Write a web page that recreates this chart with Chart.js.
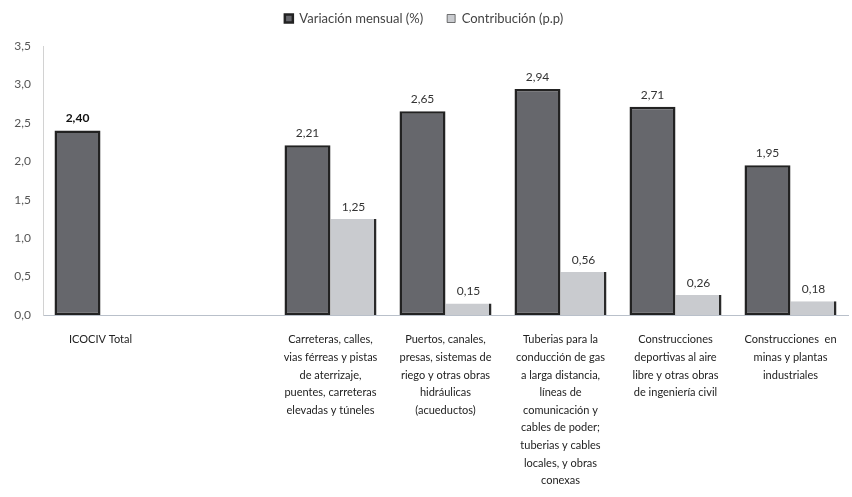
<!DOCTYPE html>
<html>
<head>
<meta charset="utf-8">
<script src="https://cdn.jsdelivr.net/npm/chart.js@4.4.1/dist/chart.umd.min.js"></script>
<style>
  html, body { margin: 0; padding: 0; background: #ffffff; }
  #wrap { width: 852px; height: 497px; position: relative; }
</style>
</head>
<body>
<div id="wrap"><canvas id="c"></canvas></div>
<script>
const categories = [
  ["ICOCIV Total"],
  [""],
  ["Carreteras, calles,", "vias férreas y pistas", "de aterrizaje,", "puentes, carreteras", "elevadas y túneles"],
  ["Puertos, canales,", "presas, sistemas de", "riego y otras obras", "hidráulicas", "(acueductos)"],
  ["Tuberias para la", "conducción de gas", "a larga distancia,", "líneas de", "comunicación y", "cables de poder;", "tuberias y cables", "locales, y obras", "conexas"],
  ["Construcciones", "deportivas al aire", "libre y otras obras", "de ingeniería civil"],
  ["Construcciones  en", "minas y plantas", "industriales"]
];
const seriesNames = ["Variación mensual (%)", "Contribución (p.p)"];
const variacionMensual = [2.40, null, 2.21, 2.65, 2.94, 2.71, 1.95];
const contribucion = [null, null, 1.25, 0.15, 0.56, 0.26, 0.18];
const yTicks = [0, 0.5, 1.0, 1.5, 2.0, 2.5, 3.0, 3.5];

const fmt = (v, d) => v.toFixed(d).replace('.', ',');
const FONT = "Lato, 'Open Sans', sans-serif";

const valueLabels = {
  id: 'valueLabels',
  afterDatasetsDraw(chart) {
    const ctx = chart.ctx;
    ctx.save();
    ctx.textAlign = 'center';
    ctx.textBaseline = 'bottom';
    chart.data.datasets.forEach((ds, di) => {
      const meta = chart.getDatasetMeta(di);
      meta.data.forEach((el, i) => {
        const v = ds.data[i];
        if (v === null || v === undefined) return;
        const bold = (di === 0 && i === 0);
        ctx.font = (bold ? 'bold ' : '') + '12px ' + FONT;
        ctx.fillStyle = bold ? '#111111' : '#333333';
        ctx.fillText(fmt(v, 2), el.x, el.y - 6);
      });
    });
    ctx.restore();
  }
};

// extra gap between legend and plot area
const legendGap = {
  id: 'legendGap',
  beforeInit(chart) {
    const lg = chart.legend;
    if (!lg) return;
    const origFit = lg.fit;
    lg.fit = function () {
      origFit.call(this);
      this.height += 11;
    };
  }
};

new Chart(document.getElementById('c'), {
  type: 'bar',
  data: {
    labels: categories,
    datasets: [
      {
        label: seriesNames[0],
        data: variacionMensual,
        backgroundColor: '#66676c',
        borderColor: '#222222',
        borderWidth: 2.5,
        borderSkipped: false
      },
      {
        label: seriesNames[1],
        data: contribucion,
        backgroundColor: '#c9cbcf',
        borderColor: '#2a2a2a',
        borderWidth: { top: 0, left: 0, right: 2.5, bottom: 0 },
        borderSkipped: false
      }
    ]
  },
  options: {
    responsive: true,
    maintainAspectRatio: false,
    animation: false,
    layout: { padding: { top: -12, right: 4, left: 0, bottom: 0 } },
    datasets: { bar: { categoryPercentage: 0.8, barPercentage: 1.0 } },
    plugins: {
      legend: {
        position: 'top',
        labels: {
          boxWidth: 8,
          boxHeight: 8,
          padding: 24,
          color: '#444444',
          font: { family: FONT, size: 13 }
        }
      },
      tooltip: { enabled: false }
    },
    scales: {
      x: {
        grid: { display: false },
        border: { display: true, color: '#b9c0ca', width: 1 },
        ticks: {
          color: '#222222',
          font: { family: FONT, size: 11, lineHeight: 1.6 },
          maxRotation: 0,
          minRotation: 0,
          autoSkip: false,
          padding: 8
        },
        afterFit: s => { s.height = 182; }
      },
      y: {
        min: 0,
        max: 3.5,
        afterBuildTicks: s => { s.ticks = yTicks.map(v => ({ value: v })); },
        grid: { display: false },
        border: { display: true, color: '#d2d2d2', width: 1 },
        ticks: {
          color: '#555555',
          font: { family: FONT, size: 12 },
          padding: 4,
          callback: v => fmt(v, 1)
        },
        afterFit: s => { s.width = 43; }
      }
    }
  },
  plugins: [valueLabels, legendGap]
});
</script>
</body>
</html>
